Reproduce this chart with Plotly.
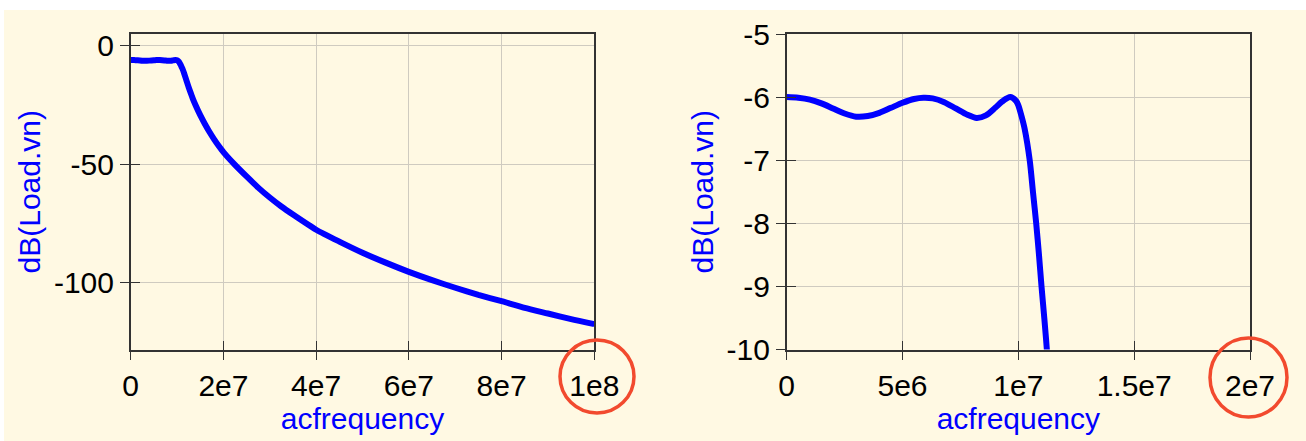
import numpy as np
import plotly.graph_objects as go

# ---- data (frequency in MHz, response in dB) ----
freq_mhz = [0.0, 0.5, 1.0, 1.5, 2.0, 2.5, 3.0, 3.5, 4.0, 4.5, 5.0, 5.5, 5.9, 6.3,
            6.8, 7.3, 7.8, 8.2, 8.6, 9.0, 9.3, 9.65, 9.9, 10.0, 10.15, 10.27,
            10.49, 10.63, 10.77, 10.89, 11.0, 11.12, 11.23, 11.5, 12.0, 12.5,
            13.0, 13.5, 14.0, 15.0, 16.0, 17.0, 18.0, 19.0, 20.0, 22.5, 25.0,
            27.5, 30.0, 32.5, 35.0, 40.0, 45.0, 50.0, 55.0, 60.0, 65.0, 70.0,
            75.0, 80.0, 85.0, 90.0, 95.0, 100.0]
load_vn_db = [-6.00, -6.01, -6.04, -6.10, -6.18, -6.26, -6.31, -6.30, -6.25, -6.17,
              -6.09, -6.03, -6.01, -6.02, -6.08, -6.18, -6.28, -6.33, -6.29, -6.17,
              -6.07, -6.00, -6.06, -6.13, -6.32, -6.50, -7.00, -7.50, -8.00, -8.50,
              -9.00, -9.50, -10.00, -11.5, -14.5, -17.5, -20.2, -22.8, -25.1, -29.3,
              -33.0, -36.4, -39.5, -42.3, -44.9, -50.3, -55.2, -59.9, -64.1, -67.9,
              -71.3, -77.7, -82.7, -87.4, -91.6, -95.5, -99.0, -102.2, -105.2,
              -107.9, -110.7, -113.1, -115.5, -117.6]

left_xticks = [0, 2e7, 4e7, 6e7, 8e7, 1e8]
left_xlabels = ["0", "2e7", "4e7", "6e7", "8e7", "1e8"]
left_yticks = [0, -50, -100]
left_ylabels = ["0", "-50", "-100"]
right_xticks = [0, 5e6, 1e7, 1.5e7, 2e7]
right_xlabels = ["0", "5e6", "1e7", "1.5e7", "2e7"]
right_yticks = [-5, -6, -7, -8, -9, -10]
right_ylabels = ["-5", "-6", "-7", "-8", "-9", "-10"]

freq_hz = np.array(freq_mhz) * 1e6

W, H = 1306, 441
BG = "#FFF9E3"
BLUE = "#0000FF"
GRID = "#CFCBC0"
FONT = "Liberation Sans, Arial, sans-serif"

# paper-space domains
lx = [130.7 / W, 594.3 / W]
rx = [786.7 / W, 1250.0 / W]
yd = [1 - 349.5 / H, 1 - 34.0 / H]

fig = go.Figure()
line = dict(color=BLUE, width=6)
fig.add_trace(go.Scatter(x=freq_hz, y=load_vn_db, mode="lines", line=line,
                         line_shape="spline", line_smoothing=0.6,
                         xaxis="x", yaxis="y", showlegend=False, hoverinfo="skip"))
fig.add_trace(go.Scatter(x=freq_hz, y=load_vn_db, mode="lines", line=line,
                         line_shape="spline", line_smoothing=0.8,
                         xaxis="x2", yaxis="y2", showlegend=False, hoverinfo="skip"))
# empty traces that carry the inner-tick overlay axes
for xa, ya in (("x3", "y3"), ("x4", "y4")):
    fig.add_trace(go.Scatter(x=[None], y=[None], mode="lines", xaxis=xa, yaxis=ya,
                             showlegend=False, hoverinfo="skip"))

tickfont = dict(family=FONT, size=30, color="black")
titlefont = dict(family=FONT, size=30, color=BLUE)

def base_axis(domain, rng, vals, texts, anchor, title=None, standoff=None):
    d = dict(domain=domain, range=rng, tickmode="array", tickvals=vals, ticktext=texts,
             ticks="outside", ticklen=9, tickwidth=1.3, tickcolor="#333333",
             showline=True, linecolor="#333333", linewidth=1.5, mirror=True,
             showgrid=True, gridcolor=GRID, gridwidth=1.3, zeroline=False,
             tickfont=tickfont, anchor=anchor, fixedrange=True, automargin=False)
    if title:
        d["title"] = dict(text=title, font=titlefont, standoff=standoff)
    return d

def inner_axis(over, rng, vals, anchor):
    return dict(overlaying=over, range=rng, tickmode="array", tickvals=vals,
                ticks="inside", ticklen=9, tickwidth=1.3, tickcolor="#333333",
                showticklabels=False, showgrid=False, zeroline=False,
                showline=False, anchor=anchor, fixedrange=True, automargin=False)

lxr = [0, 1e8]
lyr = [-128.3, 5.0]
rxr = [0, 2e7]
ryr = [-10, -5]

fig.update_layout(
    width=W, height=H,
    margin=dict(l=0, r=0, t=0, b=0, autoexpand=False),
    paper_bgcolor=BG, plot_bgcolor=BG,
    xaxis=base_axis(lx, lxr, left_xticks, left_xlabels, "y", "acfrequency", 0),
    yaxis=base_axis(yd, lyr, left_yticks, left_ylabels, "x", "dB(Load.vn)", 4),
    xaxis2=base_axis(rx, rxr, right_xticks, right_xlabels, "y2", "acfrequency", 0),
    yaxis2=base_axis(yd, ryr, right_yticks, right_ylabels, "x2", "dB(Load.vn)", 4),
    xaxis3=inner_axis("x", lxr, left_xticks, "y3"),
    yaxis3=inner_axis("y", lyr, left_yticks, "x3"),
    xaxis4=inner_axis("x2", rxr, right_xticks, "y4"),
    yaxis4=inner_axis("y2", ryr, right_yticks, "x4"),
    shapes=[
        dict(type="rect", xref="paper", yref="paper", x0=0, x1=1, y0=1 - 10 / H, y1=1,
             fillcolor="white", line=dict(width=0), layer="below"),
        dict(type="rect", xref="paper", yref="paper", x0=0, x1=4 / W, y0=0, y1=1,
             fillcolor="white", line=dict(width=0), layer="below"),
        dict(type="circle", xref="paper", yref="paper",
             x0=560 / W, x1=634 / W, y0=1 - 413 / H, y1=1 - 340 / H,
             line=dict(color="#F24A2E", width=3.5)),
        dict(type="circle", xref="paper", yref="paper",
             x0=1210 / W, x1=1287 / W, y0=1 - 417 / H, y1=1 - 338 / H,
             line=dict(color="#F24A2E", width=3.5)),
    ],
)

fig.write_html("out.html", config={"displayModeBar": False},
               post_script="document.body.style.margin='0px';"
                           "document.body.style.overflow='hidden';")
